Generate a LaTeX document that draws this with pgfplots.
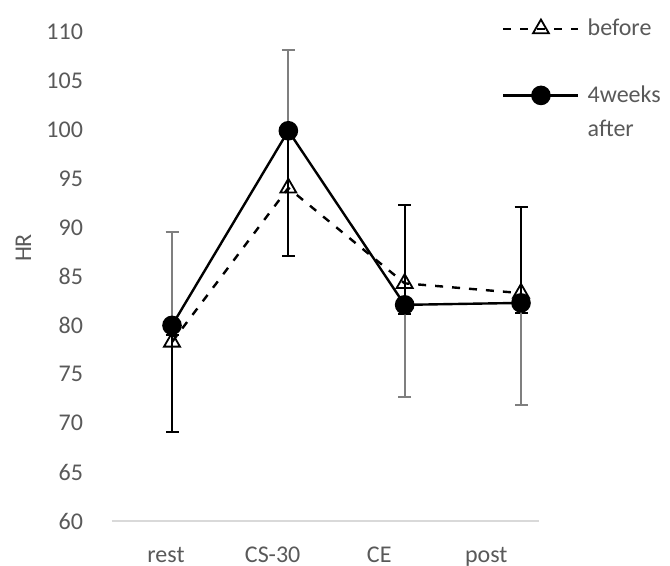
\documentclass[border=0pt]{standalone}
\usepackage{fontspec}
\setmainfont{Carlito}
\usepackage{pgfplots}
\pgfplotsset{compat=1.18}
\definecolor{txt}{HTML}{595959}
\definecolor{axl}{HTML}{D9D9D9}
\definecolor{ebgray}{HTML}{7F7F7F}
\begin{document}
\begin{tikzpicture}
\begin{axis}[
  at={(0,0)}, anchor=south west,
  scale only axis, width=213.5pt, height=244.5pt,
  xmin=-0.5158, xmax=3.1547, ymin=60, ymax=110,
  ytick={60,65,...,110},
  xtick={-0.0516,0.8654,1.7813,2.7011},
  xticklabels={rest,CS-30,CE,post},
  axis y line*=left, axis x line*=bottom,
  y axis line style={draw=none},
  x axis line style={draw=axl, line width=0.75pt, -},
  major tick length=0pt,
  font=\fontsize{12}{14}\selectfont,
  tick label style={text=txt},
  /pgf/number format/assume math mode=true,
  yticklabel style={anchor=east, xshift=-11pt},
  xticklabel style={anchor=base, yshift=-21pt},
  clip=false,
  legend style={at={(axis description cs:0.913,1.035)}, anchor=north west,
    draw=none, fill=none, font=\fontsize{12}{17}\selectfont, text=txt,
    cells={anchor=base west}, row sep=19.5pt, inner sep=0pt,
    /tikz/every odd column/.append style={column sep=2pt}},
  legend image code/.code={\draw[mark repeat=2,mark phase=2,#1] plot coordinates {(0pt,3.6pt)(18.75pt,3.6pt)(37.5pt,3.6pt)};},
]
\node[rotate=90, text=txt, font=\fontsize{12}{14}\selectfont] at (axis description cs:-0.2073,0.5583) {HR};
% before
\addplot[black, line width=1.2pt, dash pattern=on 4pt off 4.5pt,
  mark=triangle, mark size=4.6pt, mark options={solid, fill=white, line width=0.9pt},
  error bars/.cd, y dir=both, y explicit,
  error bar style={black, line width=1pt, solid},
  error mark options={rotate=90, mark size=3.25pt, black, line width=1pt, solid}]
  coordinates {
  (0,78.3) += (0,0.7) -= (0,9.2)
  (1,94.05) += (0,5.9) -= (0,6.95)
  (2,84.3) += (0,8.0) -= (0,3.1)
  (3,83.3) += (0,8.8) -= (0,2.0)
  };
\addlegendentry{before}
% 4 weeks after
\addplot[black, line width=1.2pt, solid,
  mark=*, mark size=4.3pt, mark options={solid, fill=black},
  error bars/.cd, y dir=both, y explicit,
  error bar style={ebgray, line width=1pt, solid},
  error mark options={rotate=90, mark size=3.25pt, ebgray, line width=1pt, solid}]
  coordinates {
  (0,80.0) += (0,9.5) -= (0,0)
  (1,99.9) += (0,8.3) -= (0,0)
  (2,82.1) += (0,0) -= (0,9.4)
  (3,82.3) += (0,0) -= (0,10.4)
  };
\addlegendentry{\vtop{\hbox{4weeks}\hbox{after}}}
\end{axis}
\pgfresetboundingbox
\path (-56pt,-22.5pt) rectangle (279pt,260.5pt);
\end{tikzpicture}
\end{document}
